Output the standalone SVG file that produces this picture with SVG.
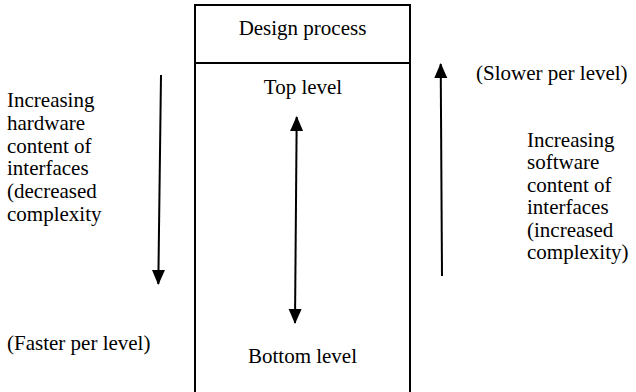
<svg xmlns="http://www.w3.org/2000/svg" width="636" height="392" viewBox="0 0 636 392">
<style>
text{font-family:'Liberation Serif','Times New Roman',Times,'DejaVu Serif',serif;font-size:21px;fill:#000}
.c{text-anchor:middle}
.box{fill:#fff;stroke:#000;stroke-width:2}
.conn{stroke:#000;stroke-width:2;fill:none}
</style>
<defs>
<marker id="ah" markerUnits="userSpaceOnUse" markerWidth="16" markerHeight="14" refX="14" refY="7" orient="auto-start-reverse" viewBox="0 0 16 14">
<path d="M0,0.5 L15,7 L0,13.5 z" fill="#000"/>
</marker>
</defs>
<rect width="636" height="392" fill="#fff"/>
<g id="process-box">
<rect class="box" x="195" y="5" width="215" height="400"/>
<line class="conn" x1="195" y1="63" x2="410" y2="63"/>
<text class="c" x="302.5" y="35">Design process</text>
</g>
<g id="top-level"><text class="c" x="303" y="94">Top level</text></g>
<g id="bottom-level"><text class="c" x="302.5" y="363">Bottom level</text></g>
<g id="hardware-label">
<text x="7" y="107">Increasing</text>
<text x="7" y="130">hardware</text>
<text x="7" y="152.5">content of</text>
<text x="7" y="175">interfaces</text>
<text x="7" y="198">(decreased</text>
<text x="7" y="221">complexity</text>
</g>
<g id="software-label">
<text x="527" y="147">Increasing</text>
<text x="527" y="169">software</text>
<text x="527" y="191.5">content of</text>
<text x="527" y="214">interfaces</text>
<text x="527" y="236.5">(increased</text>
<text x="527" y="259">complexity)</text>
</g>
<g id="slower-label"><text x="476" y="80">(Slower per level)</text></g>
<g id="faster-label"><text x="7" y="350">(Faster per level)</text></g>
<g id="connectors">
<line class="conn" x1="161" y1="75" x2="158.3" y2="284" marker-end="url(#ah)"/>
<line class="conn" x1="442" y1="276" x2="440.7" y2="64" marker-end="url(#ah)"/>
<line class="conn" x1="296.7" y1="117" x2="295" y2="323" marker-start="url(#ah)" marker-end="url(#ah)"/>
</g>
</svg>
